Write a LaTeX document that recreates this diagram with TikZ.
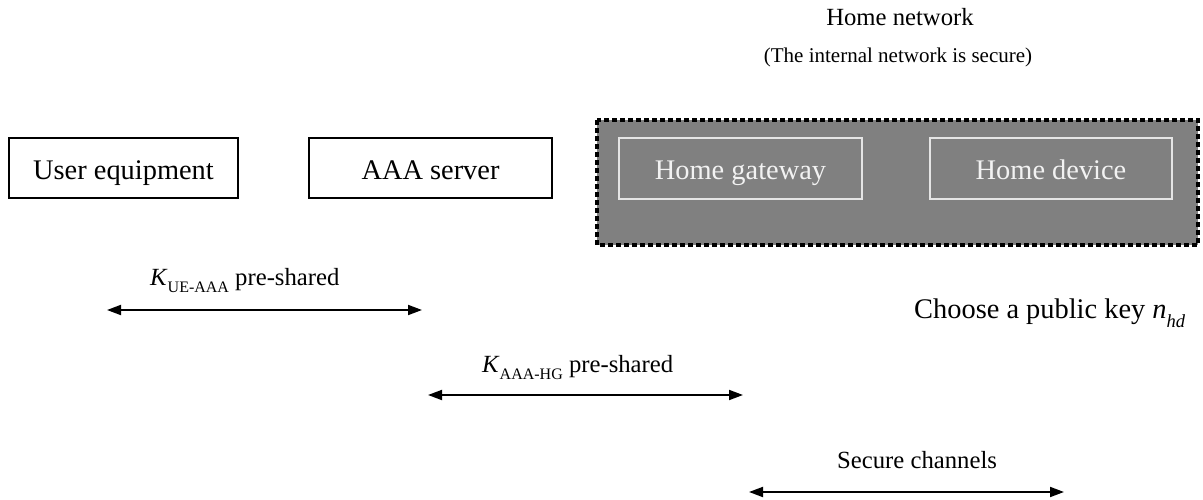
\documentclass[tikz,border=0pt]{standalone}
\usepackage{fontspec}
\setmainfont{Liberation Serif}
\usetikzlibrary{arrows.meta}

% lowered small-size subscript in text
\newcommand\dnsub[2]{\raisebox{-0.32em}{\fontsize{#1}{#1}\selectfont #2}}

\begin{document}
\begin{tikzpicture}[x=1pt,y=-1pt,
  bigtext/.style={font=\fontsize{28.4}{34}\selectfont},
  midtext/.style={font=\fontsize{24.7}{30}\selectfont},
  smalltext/.style={font=\fontsize{21}{25}\selectfont},
  entity/.style={draw=black, line width=1.5pt, minimum height=60pt, inner sep=0pt,
    text height=22pt, text depth=0pt, bigtext},
  inner entity/.style={draw=white!90!black, line width=1.5pt, text=white!95!black,
    minimum height=61pt, inner sep=0pt, text height=22pt, text depth=0pt, bigtext},
  keyarrow/.style={line width=1.8pt, {Triangle[length=14pt,width=10pt]}-{Triangle[length=14pt,width=10pt]}},
  labeltext/.style={anchor=base west, inner sep=0pt, midtext}
]
\useasboundingbox (0,0) rectangle (1203,500);

% home network enclosure
\filldraw[fill=black!50, draw=black, line width=4pt, dash pattern=on 5pt off 3pt]
  (597,120) rectangle (1198,245);
\node[midtext] (hn) at (900,17) {Home network};
\node[smalltext] (hnnote) at (898,57) {(The internal network is secure)};

% parties
\node[entity, minimum width=229pt] (ue) at (123.5,168) {User equipment};
\node[entity, minimum width=243pt] (aaa) at (430.5,168) {AAA server};
\node[inner entity, minimum width=243pt] (hg) at (740.5,168.5) {Home gateway};
\node[inner entity, minimum width=242pt] (hd) at (1051,168.5) {Home device};

% key establishment
\node[labeltext] (k1) at (150,285) {\textit{K}\dnsub{16}{UE-AAA} pre-shared};
\coordinate (a1l) at (107,310);
\coordinate (a1r) at (422,310);
\draw[keyarrow] (a1l) -- (a1r);

\node[labeltext, bigtext] (pk) at (914,318) {Choose a public key \textit{n}\dnsub{18.5}{\textit{hd}}};

\node[labeltext] (k2) at (482,372) {\textit{K}\dnsub{16}{AAA-HG} pre-shared};
\coordinate (a2l) at (428,395);
\coordinate (a2r) at (743,395);
\draw[keyarrow] (a2l) -- (a2r);

\node[labeltext] (sc) at (837,468) {Secure channels};
\coordinate (a3l) at (749,492);
\coordinate (a3r) at (1064,492);
\draw[keyarrow] (a3l) -- (a3r);
\end{tikzpicture}
\end{document}
